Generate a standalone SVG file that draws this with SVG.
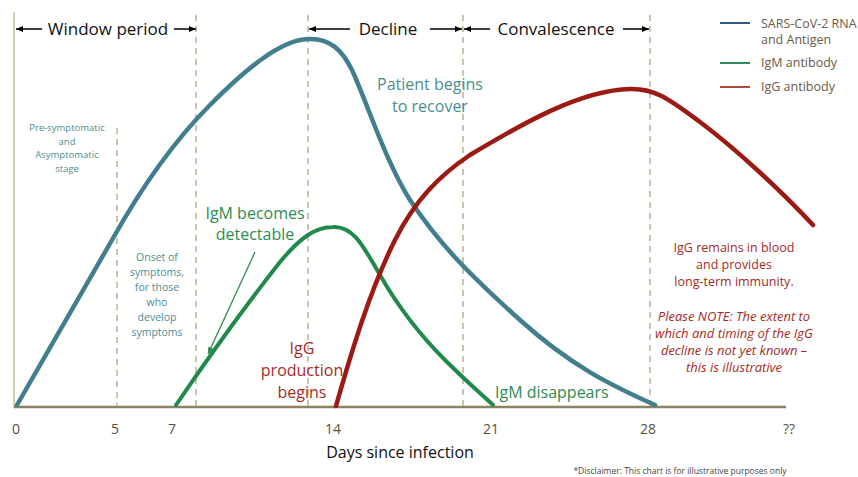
<svg xmlns="http://www.w3.org/2000/svg" width="858" height="477" viewBox="0 0 858 477">
<defs>
<marker id="ah" markerWidth="8" markerHeight="8" refX="7" refY="4" orient="auto" markerUnits="userSpaceOnUse">
<path d="M0,1 L7,4 L0,7 Z" fill="#000"/>
</marker>
<marker id="gh" markerWidth="8" markerHeight="8" refX="7" refY="4" orient="auto" markerUnits="userSpaceOnUse">
<path d="M0,1 L7,4 L0,7 Z" fill="#2e8b50"/>
</marker>
<style>
text{font-family:"Open Sans","Liberation Sans",sans-serif}
.dash{stroke:#bfae8a;stroke-width:1.5;stroke-dasharray:6,5;fill:none}
.hdr{font-size:17px;fill:#111}
.harr{stroke:#000;stroke-width:1.5;fill:none;marker-end:url(#ah)}
.tick{font-size:14px;fill:#5a5040;text-anchor:middle}
.curve{fill:none;stroke-linecap:round;stroke-linejoin:round}
.leg{font-size:12.5px;fill:#6b5a45}
.teal{fill:#4a8e92}
.green{fill:#2e8b50}
.red{fill:#a52a1e}
</style>
</defs>
<rect width="858" height="477" fill="#fff"/>
<g id="axes">
<line x1="14" y1="12" x2="14" y2="407" stroke="#c9bc98" stroke-width="1.5"/>
<line x1="14" y1="407" x2="786" y2="407" stroke="#8c8262" stroke-width="2.5"/>
</g>
<g id="gridlines">
<line class="dash" x1="117" y1="128" x2="117" y2="406"/>
<line class="dash" x1="196" y1="15" x2="196" y2="406"/>
<line class="dash" x1="308" y1="15" x2="308" y2="406"/>
<line class="dash" x1="463" y1="15" x2="463" y2="406"/>
<line class="dash" x1="650" y1="15" x2="650" y2="406"/>
</g>
<g id="header">
<line class="harr" x1="42" y1="29" x2="16" y2="29"/>
<text class="hdr" x="108" y="35" text-anchor="middle">Window period</text>
<line class="harr" x1="174" y1="29" x2="196" y2="29"/>
<line class="harr" x1="350" y1="29" x2="309" y2="29"/>
<text class="hdr" x="388" y="35" text-anchor="middle">Decline</text>
<line class="harr" x1="430" y1="29" x2="462" y2="29"/>
<line class="harr" x1="490" y1="29" x2="464" y2="29"/>
<text class="hdr" x="556" y="35" text-anchor="middle">Convalescence</text>
<line class="harr" x1="623" y1="29" x2="649" y2="29"/>
</g>
<g id="connectors">
<path id="rna" class="curve" stroke="#437e8e" stroke-width="4.5" d="M17,405 L112,240 C140,190 175,140 210,105 C245,70 280,40 308,39 C330,38 342,50 352,70 C368,105 385,160 410,200 C440,245 470,275 520,320 C570,365 610,385 655,405"/>
<path id="igm" class="curve" stroke="#1f8a4c" stroke-width="4" d="M176,405 C210,355 250,300 280,262 C300,238 315,227 333,227 C355,226 365,250 380,275 C400,310 420,335 445,360 C465,380 480,393 493,405"/>
<path id="igg" class="curve" stroke="#9b1a14" stroke-width="4.5" d="M336,406 C352,350 370,290 395,240 C415,200 440,175 470,155 C520,125 580,90 630,89 C655,88 670,100 700,122 C740,152 785,195 813,225"/>
<line x1="255" y1="252" x2="208" y2="354" stroke="#2e8b50" stroke-width="1.3" marker-end="url(#gh)"/>
</g>
<g id="ticks">
<text class="tick" x="16" y="434">0</text>
<text class="tick" x="115" y="434">5</text>
<text class="tick" x="172" y="434">7</text>
<text class="tick" x="333" y="434">14</text>
<text class="tick" x="491" y="434">21</text>
<text class="tick" x="648" y="434">28</text>
<text class="tick" x="789" y="434">??</text>
<text x="400" y="458" font-size="16" fill="#111" text-anchor="middle">Days since infection</text>
</g>
<g id="legend">
<line x1="720" y1="23" x2="750" y2="23" stroke="#2f5a80" stroke-width="2"/>
<text class="leg" x="761" y="28">SARS-CoV-2 RNA</text>
<text class="leg" x="761" y="44">and Antigen</text>
<line x1="720" y1="63" x2="750" y2="63" stroke="#2e8b57" stroke-width="2"/>
<text class="leg" x="761" y="67">IgM antibody</text>
<line x1="720" y1="87" x2="750" y2="87" stroke="#b04a3a" stroke-width="2"/>
<text class="leg" x="761" y="91">IgG antibody</text>
</g>
<g id="label-recover" class="teal" font-size="16" text-anchor="middle">
<text x="430" y="90">Patient begins</text>
<text x="430" y="112">to recover</text>
</g>
<g id="label-presym" class="teal" font-size="9.5" text-anchor="middle">
<text x="67" y="131">Pre-symptomatic</text>
<text x="67" y="145">and</text>
<text x="67" y="158">Asymptomatic</text>
<text x="67" y="172">stage</text>
</g>
<g id="label-onset" class="teal" font-size="10.5" text-anchor="middle">
<text x="157" y="261">Onset of</text>
<text x="157" y="276">symptoms,</text>
<text x="157" y="291">for those</text>
<text x="157" y="306">who</text>
<text x="157" y="321">develop</text>
<text x="157" y="336">symptoms</text>
</g>
<g id="label-igm-detect" class="green" font-size="16" text-anchor="middle">
<text x="255" y="219">IgM becomes</text>
<text x="255" y="240">detectable</text>
</g>
<g id="label-igg-begins" class="red" font-size="16" text-anchor="middle">
<text x="302" y="354">IgG</text>
<text x="302" y="376">production</text>
<text x="302" y="398">begins</text>
</g>
<g id="label-igm-gone" class="green" font-size="16">
<text x="495" y="398">IgM disappears</text>
</g>
<g id="label-igg-remains" class="red" font-size="12.5" text-anchor="middle">
<text x="734" y="252">IgG remains in blood</text>
<text x="734" y="269">and provides</text>
<text x="734" y="286">long-term immunity.</text>
</g>
<g id="label-note" class="red" font-size="13" font-style="italic" text-anchor="middle">
<text x="734" y="321">Please NOTE: The extent to</text>
<text x="734" y="338">which and timing of the IgG</text>
<text x="734" y="355">decline is not yet known –</text>
<text x="734" y="372">this is illustrative</text>
</g>
<g id="disclaimer">
<text x="680" y="474" font-size="8.5" fill="#444" text-anchor="middle">*Disclaimer: This chart is for illustrative purposes only</text>
</g>
</svg>
